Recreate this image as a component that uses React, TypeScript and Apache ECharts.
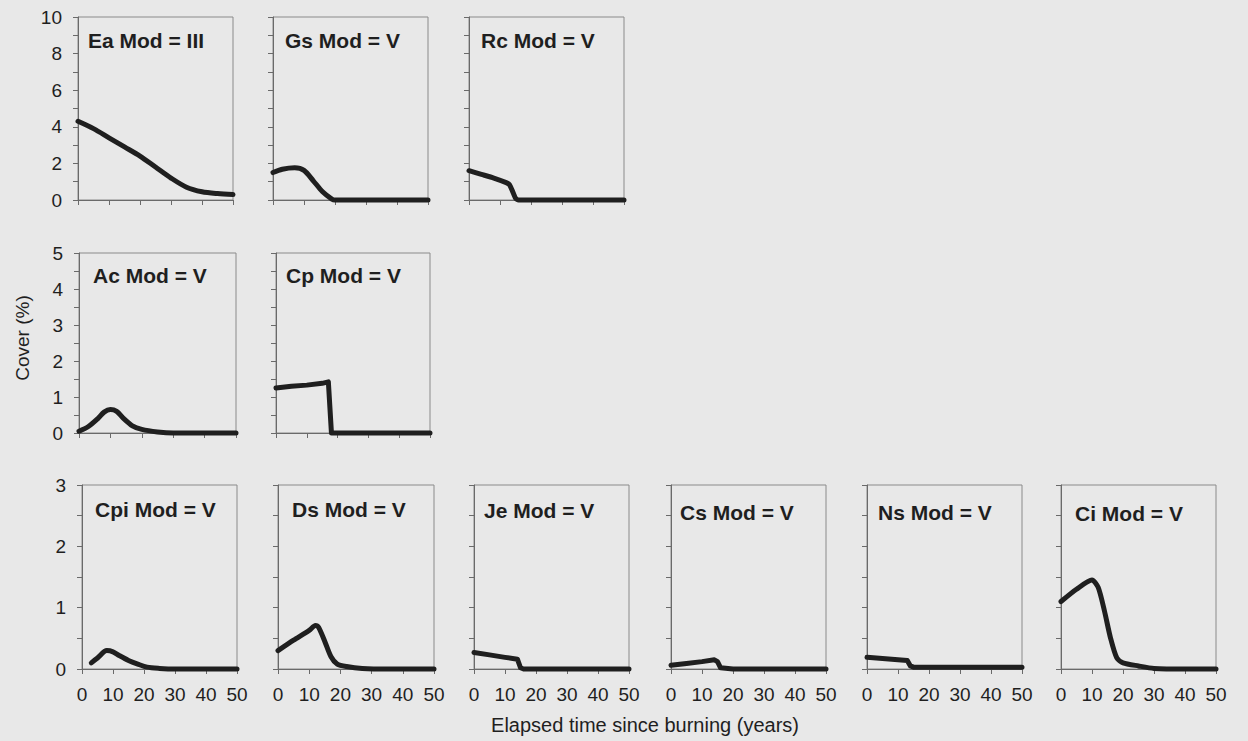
import React, { useEffect, useRef } from "react";
import * as echarts from "echarts";

// ---- Data (years since burning, cover %) ----
const eaYears = [0, 5, 10, 15, 20, 25, 30, 35, 40, 45, 50];
const eaCover = [4.3, 3.9, 3.4, 2.9, 2.4, 1.8, 1.2, 0.7, 0.45, 0.35, 0.3];

const gsYears = [0, 3, 7, 10, 13, 16, 19, 20, 25, 30, 40, 50];
const gsCover = [1.5, 1.68, 1.76, 1.62, 1.05, 0.45, 0.05, 0, 0, 0, 0, 0];

const rcYears = [0, 4, 8, 12, 13, 14, 15, 16, 20, 30, 40, 50];
const rcCover = [1.6, 1.4, 1.2, 0.95, 0.85, 0.5, 0.1, 0, 0, 0, 0, 0];

const acYears = [0, 3, 6, 8, 10, 12, 14, 17, 20, 25, 30, 40, 50];
const acCover = [0.05, 0.18, 0.4, 0.58, 0.65, 0.6, 0.42, 0.2, 0.1, 0.03, 0, 0, 0];

const cpYears = [0, 5, 10, 15, 17, 18, 20, 30, 40, 50];
const cpCover = [1.25, 1.3, 1.33, 1.38, 1.42, 0, 0, 0, 0, 0];

const cpiYears = [3, 5, 8, 10, 12, 15, 18, 21, 25, 30, 40, 50];
const cpiCover = [0.1, 0.18, 0.3, 0.28, 0.22, 0.14, 0.08, 0.03, 0.01, 0, 0, 0];

const dsYears = [0, 5, 10, 12, 13, 15, 17, 19, 22, 27, 35, 40, 50];
const dsCover = [0.3, 0.47, 0.63, 0.71, 0.68, 0.45, 0.2, 0.08, 0.04, 0.01, 0, 0, 0];

const jeYears = [0, 5, 10, 14, 15, 16, 20, 30, 40, 50];
const jeCover = [0.27, 0.23, 0.19, 0.16, 0.02, 0, 0, 0, 0, 0];

const csYears = [0, 5, 10, 14, 15, 16, 20, 30, 40, 50];
const csCover = [0.06, 0.09, 0.12, 0.15, 0.12, 0.02, 0, 0, 0, 0];

const nsYears = [0, 5, 10, 13, 14, 15, 20, 30, 40, 50];
const nsCover = [0.19, 0.17, 0.15, 0.14, 0.05, 0.03, 0.03, 0.03, 0.03, 0.03];

const ciYears = [0, 5, 10, 12, 14, 16, 18, 20, 25, 30, 40, 50];
const ciCover = [1.1, 1.3, 1.45, 1.33, 0.95, 0.5, 0.18, 0.1, 0.05, 0.01, 0, 0];

const panelTitles = [
  "Ea Mod = III", "Gs Mod = V", "Rc Mod = V",
  "Ac Mod = V", "Cp Mod = V",
  "Cpi Mod = V", "Ds Mod = V", "Je Mod = V", "Cs Mod = V", "Ns Mod = V", "Ci Mod = V",
];
const panelYears = [eaYears, gsYears, rcYears, acYears, cpYears, cpiYears, dsYears, jeYears, csYears, nsYears, ciYears];
const panelCover = [eaCover, gsCover, rcCover, acCover, cpCover, cpiCover, dsCover, jeCover, csCover, nsCover, ciCover];

const xTickMax = 50;
const xTickStep = 10;
const rowYMax = [10, 5, 3];
const rowYStep = [2, 1, 1];
const xAxisTitle = "Elapsed time since burning (years)";
const yAxisTitle = "Cover (%)";

// ---- Layout (pixels) ----
const rowTop = [17, 253, 485];
const rowHeight = [183, 180, 184];
const panelLayout = [
  { row: 0, left: 78, width: 155, tx: 10, ty: 23, smooth: 0.3 },
  { row: 0, left: 273, width: 155, tx: 12, ty: 23, smooth: 0.3 },
  { row: 0, left: 469, width: 155, tx: 12, ty: 23, smooth: 0.2 },
  { row: 1, left: 79, width: 157, tx: 14, ty: 22, smooth: 0.3 },
  { row: 1, left: 276, width: 154, tx: 10, ty: 22, smooth: false },
  { row: 2, left: 82, width: 155, tx: 13, ty: 24, smooth: 0.3 },
  { row: 2, left: 278, width: 156, tx: 14, ty: 24, smooth: 0.25 },
  { row: 2, left: 474, width: 155, tx: 10, ty: 25, smooth: false },
  { row: 2, left: 671, width: 155, tx: 9, ty: 27, smooth: false },
  { row: 2, left: 867, width: 155, tx: 11, ty: 27, smooth: false },
  { row: 2, left: 1061, width: 155, tx: 14, ty: 28, smooth: 0.25 },
];

const FONT = "'Liberation Sans', Arial, Helvetica, sans-serif";
const INK = "#1f1f1f";
const AXIS = "#6a6a6a";
const BG = "#e8e8e8";

export default function App() {
  const ref = useRef<HTMLDivElement>(null);

  useEffect(() => {
    if (!ref.current) return;
    const chart = echarts.init(ref.current, undefined, { renderer: "svg" });

    const grids: any[] = [];
    const xAxes: any[] = [];
    const yAxes: any[] = [];
    const series: any[] = [];
    const graphics: any[] = [];

    panelLayout.forEach((p, i) => {
      const r = p.row;
      const firstInRow = i === 0 || panelLayout[i - 1].row !== r;
      grids.push({
        left: p.left,
        top: rowTop[r],
        width: p.width,
        height: rowHeight[r],
        show: true,
        borderColor: "#8a8a8a",
        borderWidth: 1,
        backgroundColor: "transparent",
        containLabel: false,
      });
      xAxes.push({
        type: "value",
        gridIndex: i,
        min: 0,
        max: xTickMax,
        interval: xTickStep,
        axisLine: { show: true, onZero: false, lineStyle: { color: AXIS, width: 1 } },
        axisTick: { show: true, inside: false, length: 5, lineStyle: { color: AXIS } },
        axisLabel: {
          show: r === 2,
          fontSize: 19,
          color: INK,
          fontFamily: FONT,
          margin: 16,
        },
        splitLine: { show: false },
      });
      yAxes.push({
        type: "value",
        gridIndex: i,
        min: 0,
        max: rowYMax[r],
        interval: rowYStep[r],
        axisLine: { show: true, onZero: false, lineStyle: { color: AXIS, width: 1 } },
        axisTick: { show: true, inside: false, length: 5, lineStyle: { color: AXIS } },
        minorTick: { show: true, splitNumber: 2, length: 5, lineStyle: { color: AXIS } },
        axisLabel: {
          show: firstInRow,
          fontSize: 19,
          color: INK,
          fontFamily: FONT,
          margin: 16,
        },
        splitLine: { show: false },
        minorSplitLine: { show: false },
      });
      const yrs = panelYears[i];
      const cov = panelCover[i];
      series.push({
        type: "line",
        xAxisIndex: i,
        yAxisIndex: i,
        data: yrs.map((y, k) => [y, cov[k]]),
        showSymbol: false,
        symbol: "none",
        smooth: p.smooth,
        clip: false,
        lineStyle: { color: INK, width: 5, cap: "round", join: "round" },
      });
      graphics.push({
        type: "text",
        x: p.left + p.tx,
        y: rowTop[r] + p.ty,
        style: {
          text: panelTitles[i],
          font: `bold 21px ${FONT}`,
          fill: INK,
          textAlign: "left",
          textVerticalAlign: "middle",
        },
      });
    });

    graphics.push({
      type: "text",
      x: 22,
      y: 338,
      rotation: Math.PI / 2,
      style: {
        text: yAxisTitle,
        font: `19px ${FONT}`,
        fill: INK,
        textAlign: "center",
        textVerticalAlign: "middle",
      },
    });
    graphics.push({
      type: "text",
      x: 645,
      y: 725,
      style: {
        text: xAxisTitle,
        font: `20px ${FONT}`,
        fill: INK,
        textAlign: "center",
        textVerticalAlign: "middle",
      },
    });

    chart.setOption({
      animation: false,
      backgroundColor: BG,
      grid: grids,
      xAxis: xAxes,
      yAxis: yAxes,
      series,
      graphic: graphics,
    });

    return () => chart.dispose();
  }, []);

  return (
    <div
      ref={ref}
      style={{ position: "fixed", left: 0, top: 0, width: 1248, height: 741, background: BG }}
    />
  );
}
